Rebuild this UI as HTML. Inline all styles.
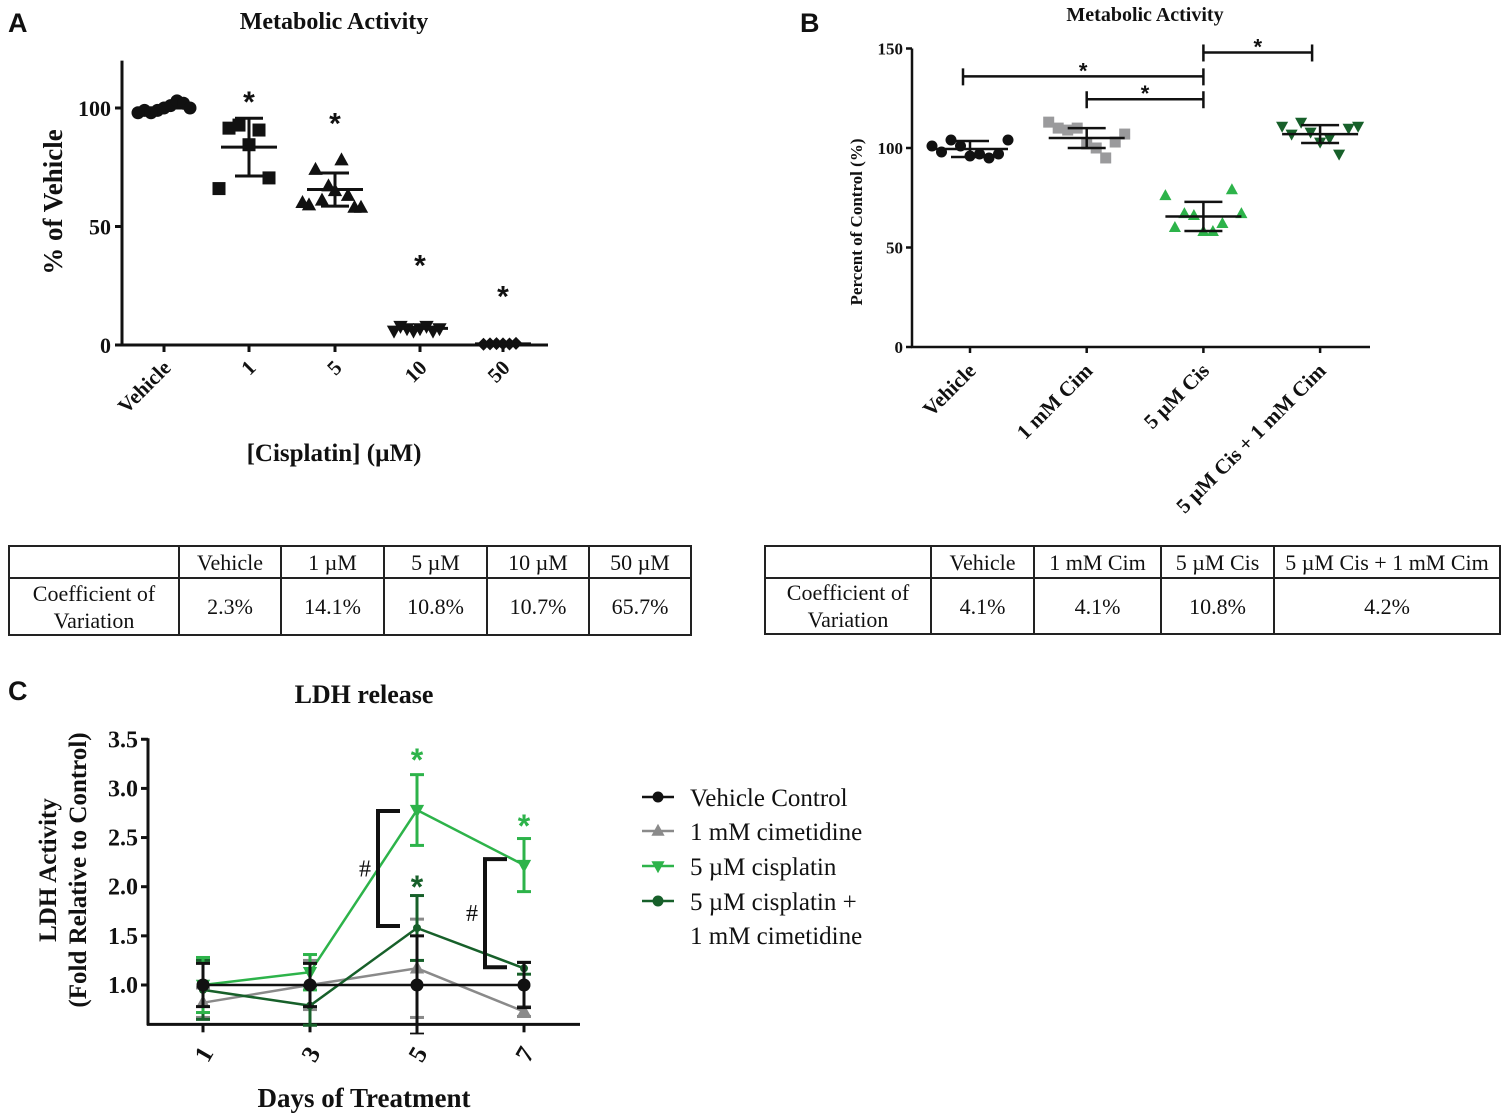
<!DOCTYPE html>
<html><head><meta charset="utf-8">
<style>
html,body{margin:0;padding:0;background:#fff;}
body{width:1507px;height:1120px;position:relative;overflow:hidden;font-family:"Liberation Serif",serif;}
svg{position:absolute;left:0;top:0;}
table{position:absolute;border-collapse:collapse;font-family:"Liberation Serif",serif;font-size:22px;color:#111;}
td{border:2px solid #222;text-align:center;padding:0;line-height:27px;}
</style></head>
<body>
<svg id="chart" width="1507" height="1120" viewBox="0 0 1507 1120"></svg>

<table style="left:8px;top:545px;width:684px;height:91px;">
<tr style="height:32px"><td style="width:168px"></td><td style="width:100px">Vehicle</td><td style="width:101px">1 µM</td><td style="width:101px">5 µM</td><td style="width:100px">10 µM</td><td>50 µM</td></tr>
<tr><td>Coefficient of<br>Variation</td><td>2.3%</td><td>14.1%</td><td>10.8%</td><td>10.7%</td><td>65.7%</td></tr>
</table>
<table style="left:764px;top:545px;width:737px;height:89px;">
<tr style="height:32px"><td style="width:164px"></td><td style="width:101px">Vehicle</td><td style="width:125px">1 mM Cim</td><td style="width:111px">5 µM Cis</td><td>5 µM Cis + 1 mM Cim</td></tr>
<tr><td>Coefficient of<br>Variation</td><td>4.1%</td><td>4.1%</td><td>10.8%</td><td>4.2%</td></tr>
</table>

<script>
// ---- Panel A data ----
const aCategories = ["Vehicle","1","5","10","50"];
const aPoints = [
  [100,99,101,98,103,99,102,98,100],
  [84.5,92.8,90.7,91.5,70.5,66],
  [65,67,78,61,63,74,58,59,58,60],
  [7,6,8,7,6,8,7,6],
  [0.5,0.6,0.4,0.5,0.7,0.3]
];
const aMeans = [100,83.5,65.6,7,0.5];
const aErr = [0,12.2,7,0,0];
const aYTicks = [0,50,100];
const aStars = [false,true,true,true,true];
const aStarVals = [0,105,96,36,23];

// ---- Panel B data ----
const bCategories = ["Vehicle","1 mM Cim","5 µM Cis","5 µM Cis + 1 mM Cim"];
const bPoints = [
  [96,101,97,104,95,98,97,101,104],
  [102,110,100,109,95,110,103,113,107],
  [58,66,58,67,62,60,79,76,67],
  [103,108,105,113,97,107,110,111,111]
];
const bMeans = [99.5,105,65.6,107];
const bErr = [4,5,7.3,4.5];
const bYTicks = [0,50,100,150];
const bColors = ["#111","#9a9a9c","#2db34a","#17602a"];
const bBrackets = [[0,2,136],[1,2,124.5],[2,3,148]];

// ---- Panel C data ----
const cDays = ["1","3","5","7"];
const cSeriesNames = ["Vehicle Control","1 mM cimetidine","5 µM cisplatin","5 µM cisplatin +\n1 mM cimetidine"];
const cVehicle = [1,1,1,1];
const cVehicleErr = [0.22,0.22,0.5,0.23];
const cCim = [0.82,1.0,1.17,0.73];
const cCimErr = [0.15,0.25,0.5,0.05];
const cCis = [1.0,1.13,2.78,2.22];
const cCisErr = [0.28,0.18,0.36,0.27];
const cCisCim = [0.95,0.79,1.58,1.17];
const cCisCimErr = [0.3,0.2,0.33,0.06];
const cYTicks = [1.0,1.5,2.0,2.5,3.0,3.5];

const svg = document.getElementById('chart');
const NS = "http://www.w3.org/2000/svg";
function el(tag, attrs, parent){
  const e = document.createElementNS(NS, tag);
  for (const k in attrs) e.setAttribute(k, attrs[k]);
  (parent||svg).appendChild(e);
  return e;
}
function txt(s, x, y, size, opts, parent){
  const t = el('text', Object.assign({x:x,y:y,'font-size':size,'font-family':'"Liberation Serif", serif','font-weight':'bold','fill':'#111'}, opts||{}), parent);
  t.textContent = s;
  return t;
}
function marker(shape, x, y, r, color, parent){
  let m;
  if (shape==='circle') m = el('circle',{cx:x,cy:y,r:r,fill:color},parent);
  else if (shape==='square') m = el('rect',{x:x-r,y:y-r,width:2*r,height:2*r,fill:color},parent);
  else if (shape==='tri') m = el('polygon',{points:`${x},${y-r*1.2} ${x-r*1.1},${y+r*0.8} ${x+r*1.1},${y+r*0.8}`,fill:color},parent);
  else if (shape==='dtri') m = el('polygon',{points:`${x},${y+r*1.2} ${x-r*1.1},${y-r*0.8} ${x+r*1.1},${y-r*0.8}`,fill:color},parent);
  else if (shape==='diamond') m = el('polygon',{points:`${x},${y-r} ${x-r},${y} ${x},${y+r} ${x+r},${y}`,fill:color},parent);
  return m;
}
// alternating beeswarm offset by index
function jit(j, step){ const k = Math.ceil(j/2); return (j%2 ? -1 : 1) * k * step; }

// Panel letters
[["A",8,32],["B",800,32],["C",8,700]].forEach(p=>{
  const t = txt(p[0],p[1],p[2],27,{'font-family':'"Liberation Sans", sans-serif'});
  
  
});

// ================= Panel A =================
const gA = el('g',{});


const aX0=122, aX1=548, aY0=345, aYmax=120, aPx=2.37;
const ax = i => [164,249,335,420,503][i];
const ay = v => aY0 - v*aPx;
let t = txt("Metabolic  Activity",334,29,24,{'text-anchor':'middle','xml:space':'preserve'},gA);
 
el('line',{x1:aX0,y1:ay(aYmax),x2:aX0,y2:aY0+1,stroke:'#111','stroke-width':3},gA);
el('line',{x1:aX0-1,y1:aY0,x2:aX1,y2:aY0,stroke:'#111','stroke-width':3},gA);
aYTicks.forEach(v=>{
  el('line',{x1:aX0-7,y1:ay(v),x2:aX0,y2:ay(v),stroke:'#111','stroke-width':3},gA);
  const tk = txt(String(v),aX0-11,ay(v)+8,22,{'text-anchor':'end'},gA);
   
});
aCategories.forEach((c,i)=>{
  el('line',{x1:ax(i),y1:aY0,x2:ax(i),y2:aY0+7,stroke:'#111','stroke-width':3},gA);
  const tk = txt(c,ax(i)+8,aY0+24,21,{'text-anchor':'end',transform:`rotate(-45 ${ax(i)+8} ${aY0+24})`},gA);
   
});
t = txt("% of Vehicle",0,0,27,{'text-anchor':'middle',transform:'translate(62 202) rotate(-90)'},gA);
 
t = txt("[Cisplatin] (µM)",334,461,25,{'text-anchor':'middle'},gA);
 
const aShapes=['circle','square','tri','dtri','diamond'];
aPoints.forEach((pts,i)=>{
  pts.forEach((v,j)=>{
    const m = marker(aShapes[i], ax(i)+jit(j, i===1?10:6.5), ay(v), 6.5, '#111', gA);
     
  });
  const ml = el('line',{x1:ax(i)-28,y1:ay(aMeans[i]),x2:ax(i)+28,y2:ay(aMeans[i]),stroke:'#111','stroke-width':3},gA);
   
  if (aErr[i]>0){
    el('line',{x1:ax(i),y1:ay(aMeans[i]+aErr[i]),x2:ax(i),y2:ay(aMeans[i]-aErr[i]),stroke:'#111','stroke-width':3},gA);
    [1,-1].forEach(s=>el('line',{x1:ax(i)-14,y1:ay(aMeans[i]+s*aErr[i]),x2:ax(i)+14,y2:ay(aMeans[i]+s*aErr[i]),stroke:'#111','stroke-width':3},gA));
  }
  if (aStars[i]){
    const st = txt("*",ax(i),ay(aStarVals[i])+16,30,{'text-anchor':'middle','font-family':'"Liberation Sans", sans-serif'},gA);
     
  }
});

// ================= Panel B =================
const gB = el('g',{});


const bX0=912, bX1=1370, bY0=347, bPx=1.99;
const bx = i => 970 + i*116.7;
const by = v => bY0 - v*bPx;
t = txt("Metabolic Activity",1145,21,20,{'text-anchor':'middle'},gB);
 
el('line',{x1:bX0,y1:by(150),x2:bX0,y2:bY0+1,stroke:'#111','stroke-width':2.5},gB);
el('line',{x1:bX0-1,y1:bY0,x2:bX1,y2:bY0,stroke:'#111','stroke-width':2.5},gB);
bYTicks.forEach(v=>{
  el('line',{x1:bX0-6,y1:by(v),x2:bX0,y2:by(v),stroke:'#111','stroke-width':2.5},gB);
  const tk = txt(String(v),bX0-9,by(v)+6,17,{'text-anchor':'end'},gB);
   
});
bCategories.forEach((c,i)=>{
  el('line',{x1:bx(i),y1:bY0,x2:bx(i),y2:bY0+6,stroke:'#111','stroke-width':2.5},gB);
  const tk = txt(c,bx(i)+7,bY0+25,21,{'text-anchor':'end',transform:`rotate(-45 ${bx(i)+7} ${bY0+25})`},gB);
   
});
t = txt("Percent of Control (%)",0,0,17,{'text-anchor':'middle',transform:'translate(862 222) rotate(-90)'},gB);
 
const bShapes=['circle','square','tri','dtri'];
bPoints.forEach((pts,i)=>{
  pts.forEach((v,j)=>{
    const m = marker(bShapes[i], bx(i)+jit(j,9.5), by(v), 5.5, bColors[i], gB);
     
  });
  const ml = el('line',{x1:bx(i)-38,y1:by(bMeans[i]),x2:bx(i)+38,y2:by(bMeans[i]),stroke:'#111','stroke-width':2.5},gB);
   
  el('line',{x1:bx(i),y1:by(bMeans[i]+bErr[i]),x2:bx(i),y2:by(bMeans[i]-bErr[i]),stroke:'#111','stroke-width':2.5},gB);
  [1,-1].forEach(s=>el('line',{x1:bx(i)-19,y1:by(bMeans[i]+s*bErr[i]),x2:bx(i)+19,y2:by(bMeans[i]+s*bErr[i]),stroke:'#111','stroke-width':2.5},gB));
});
bBrackets.forEach(b=>{
  const x1=bx(b[0])-(b[0]===0?7:0), x2=bx(b[1])-(b[1]===3?8:0), y=by(b[2]);
  const g = el('g',{},gB);
   
  el('line',{x1:x1,y1:y,x2:x2,y2:y,stroke:'#111','stroke-width':2.5},g);
  el('line',{x1:x1,y1:y-8,x2:x1,y2:y+9,stroke:'#111','stroke-width':2.5},g);
  el('line',{x1:x2,y1:y-8,x2:x2,y2:y+9,stroke:'#111','stroke-width':2.5},g);
  txt("*",(x1+x2)/2,y+2,22,{'text-anchor':'middle','font-family':'"Liberation Sans", sans-serif'},g);
});

// ================= Panel C =================
const gC = el('g',{});


const cX0=148, cX1=580, cPx=98.3, cBase=0.6;
const cx = i => 203 + i*107;
const cy = v => 985 - (v-1)*cPx;
const cAxisY = cy(cBase);
t = txt("LDH release",364,703,26,{'text-anchor':'middle'},gC);
 
el('line',{x1:cX0,y1:cy(3.5)-1,x2:cX0,y2:cAxisY+1,stroke:'#111','stroke-width':3},gC);
el('line',{x1:cX0-1,y1:cAxisY,x2:cX1,y2:cAxisY,stroke:'#111','stroke-width':3},gC);
cYTicks.forEach(v=>{
  el('line',{x1:cX0-7,y1:cy(v),x2:cX0,y2:cy(v),stroke:'#111','stroke-width':3},gC);
  const tk = txt(v.toFixed(1),cX0-10,cy(v)+8,24,{'text-anchor':'end'},gC);
   
});
cDays.forEach((d,i)=>{
  el('line',{x1:cx(i),y1:cAxisY,x2:cx(i),y2:cAxisY+8,stroke:'#111','stroke-width':3},gC);
  const tk = txt(d,cx(i)+8,cAxisY+34,25,{'text-anchor':'middle',transform:`rotate(-60 ${cx(i)+8} ${cAxisY+34})`},gC);
   
});
t = txt("LDH Activity",0,0,25,{'text-anchor':'middle',transform:'translate(56 870) rotate(-90)'},gC);
 
t = txt("(Fold Relative to Control)",0,0,25,{'text-anchor':'middle',transform:'translate(86 870) rotate(-90)'},gC);
 
t = txt("Days of Treatment",364,1107,27,{'text-anchor':'middle'},gC);
 

const defs = el('defs',{},gC);
const cp = el('clipPath',{id:'cclip'},defs);
el('rect',{x:0,y:0,width:1507,height:cAxisY+10},cp);

const cSeries = [
  {v:cCim,e:cCimErr,c:'#8a8a8a',shape:'tri',name:'series-cimetidine'},
  {v:cCisCim,e:cCisCimErr,c:'#17602a',shape:'star',name:'series-cisplatin-cimetidine'},
  {v:cCis,e:cCisErr,c:'#2db34a',shape:'dtri',name:'series-cisplatin'},
  {v:cVehicle,e:cVehicleErr,c:'#111',shape:'circle',name:'series-vehicle-control'}
];
cSeries.forEach(s=>{
  const g = el('g',{'clip-path':'url(#cclip)'},gC);
   
  el('polyline',{points:s.v.map((v,i)=>`${cx(i)},${cy(v)}`).join(' '),fill:'none',stroke:s.c,'stroke-width':2.5},g);
  s.v.forEach((v,i)=>{
    el('line',{x1:cx(i),y1:cy(v+s.e[i]),x2:cx(i),y2:cy(v-s.e[i]),stroke:s.c,'stroke-width':3},g);
    [1,-1].forEach(k=>el('line',{x1:cx(i)-7,y1:cy(v+k*s.e[i]),x2:cx(i)+7,y2:cy(v+k*s.e[i]),stroke:s.c,'stroke-width':3},g));
    const m = s.shape==='star' ? marker('circle',cx(i),cy(v),4,s.c,g) : marker(s.shape,cx(i),cy(v),6.5,s.c,g);
     
  });
});
[[2,3.38,'#2db34a'],[3,2.71,'#2db34a'],[2,2.09,'#17602a']].forEach(s=>{
  const st = txt("*",cx(s[0]),cy(s[1])+20,32,{'text-anchor':'middle','font-family':'"Liberation Sans", sans-serif',fill:s[2]},gC);
   
});
[[2,2.77,1.6],[3,2.28,1.18]].forEach(b=>{
  const g = el('g',{},gC);
   
  const xr = cx(b[0])-17, xl = xr-22;
  el('polyline',{points:`${xr},${cy(b[1])} ${xl},${cy(b[1])} ${xl},${cy(b[2])} ${xr},${cy(b[2])}`,fill:'none',stroke:'#111','stroke-width':4},g);
  txt("#",xl-13,(cy(b[1])+cy(b[2]))/2+8,24,{'text-anchor':'middle','font-weight':'normal'},g);
});
const lg = el('g',{},gC);
 
const legItems = [['#111','circle',797],['#8a8a8a','tri',831],['#2db34a','dtri',866],['#17602a','circle',901]];
legItems.forEach((it,i)=>{
  const g = el('g',{},lg);
   
  el('line',{x1:642,y1:it[2],x2:674,y2:it[2],stroke:it[0],'stroke-width':2.5},g);
  marker(it[1],658,it[2],it[1]==='circle'?5.5:6,it[0],g);
  cSeriesNames[i].split('\n').forEach((ln,k)=>{
    txt(ln,690,it[2]+9+k*34,25,{'font-weight':'normal'},g);
  });
});
</script>
</body></html>
